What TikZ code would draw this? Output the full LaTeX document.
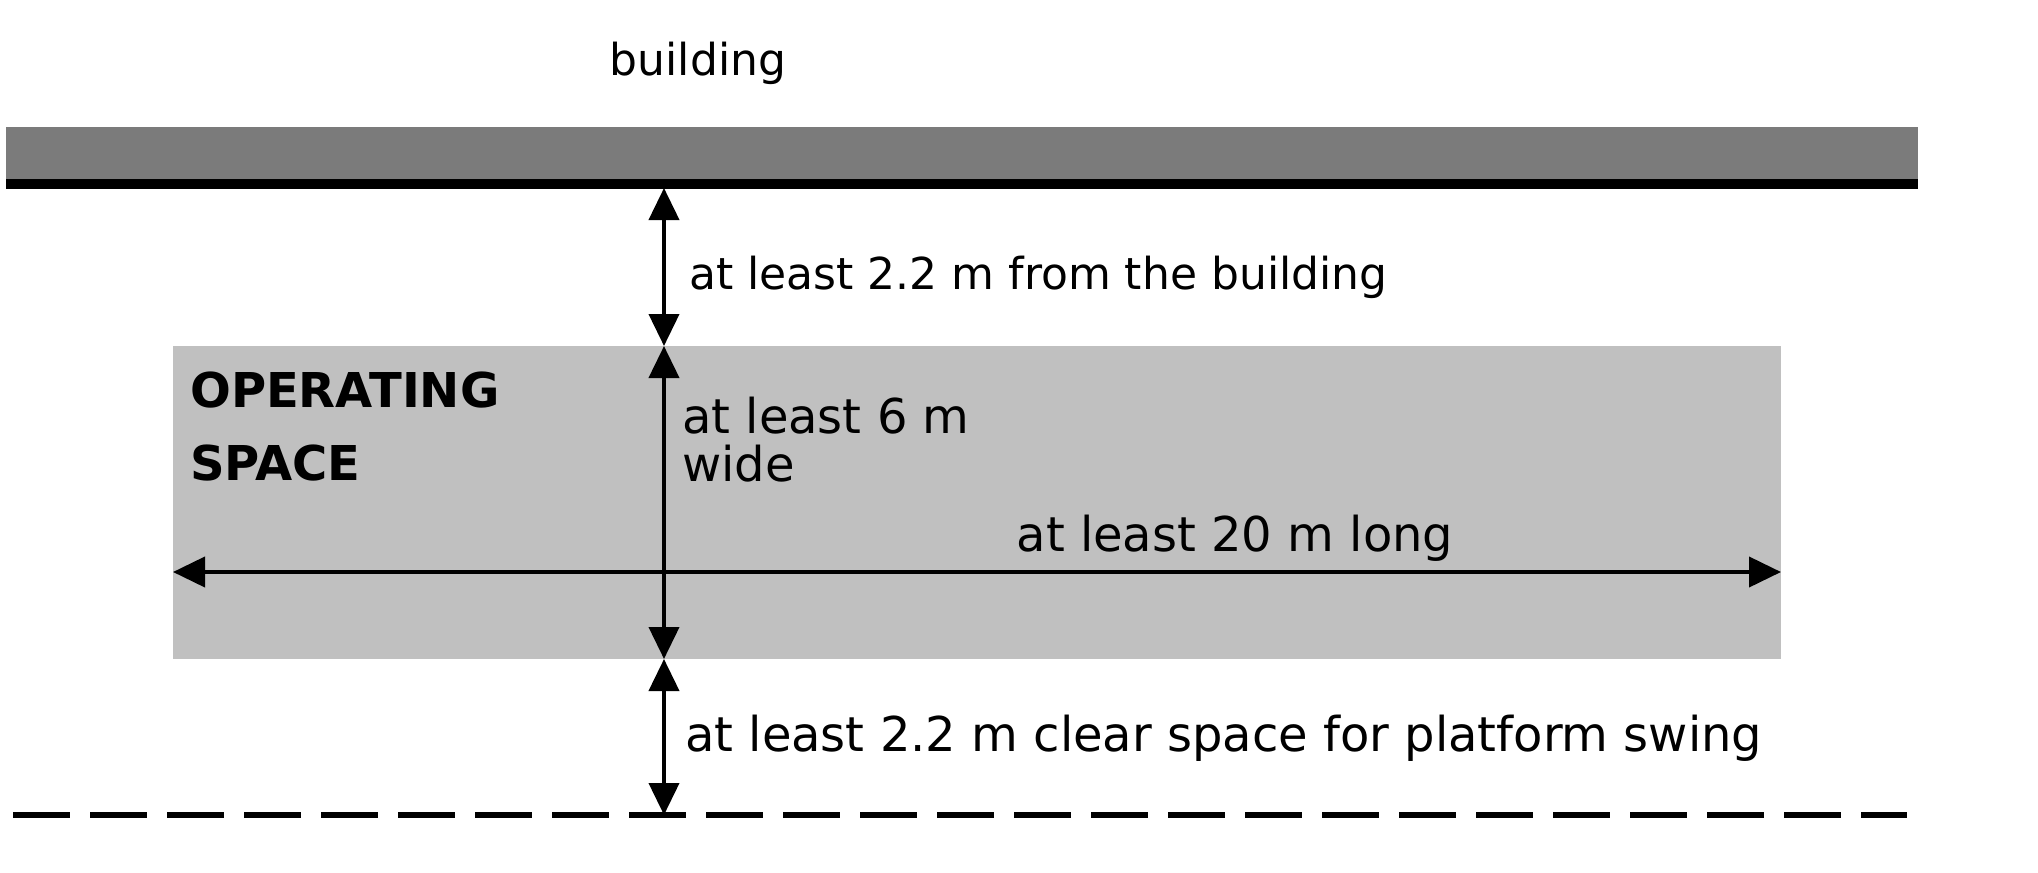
\documentclass[tikz,border=0pt]{standalone}
\usepackage{fontspec}
\setmainfont{DejaVu Sans}
\usetikzlibrary{arrows.meta}
\definecolor{wallgray}{HTML}{7B7B7B}
\definecolor{spacegray}{HTML}{C0C0C0}
\tikzset{
  lbl/.style={inner sep=0pt, anchor=base west, font=\fontsize{44}{48}\selectfont},
  big lbl/.style={lbl, font=\fontsize{48}{52}\selectfont},
  bold lbl/.style={lbl, font=\fontsize{48}{52}\selectfont\bfseries},
  dim/.style={line width=4pt, {Triangle[length=32pt,width=30pt]}-{Triangle[length=32pt,width=30pt]}},
}
\begin{document}
\begin{tikzpicture}[x=1pt,y=-1pt]
\useasboundingbox[fill=white] (0,0) rectangle (2038,873);
% building wall
\fill[wallgray] (6,127) rectangle (1918,180);
\fill[black] (6,179) rectangle (1918,189);
% operating space
\fill[spacegray] (173,346) rectangle (1781,659);
% dashed limit
\draw[line width=6pt, dash pattern=on 57pt off 20pt] (13,815) -- (1907,815);
% coordinates
\coordinate (wall) at (664,188);
\coordinate (optop) at (664,346);
\coordinate (opbot) at (664,659);
\coordinate (limit) at (664,815);
\coordinate (opleft) at (173,572);
\coordinate (opright) at (1781,572);
% dimension arrows
\draw[dim] (wall) -- (optop);
\draw[dim] (optop) -- (opbot);
\draw[dim] (opbot) -- (limit);
\draw[dim] (opleft) -- (opright);
% labels
\node[lbl, anchor=base] (bld) at (698,75) {building};
\node[lbl] (d1) at (689,289) {at least 2.2 m from the building};
\node[bold lbl] (op1) at (190,407) {OPERATING};
\node[bold lbl] (op2) at (190,480) {SPACE};
\node[big lbl] (w1) at (682,433) {at least 6 m};
\node[big lbl] (w2) at (682,481) {wide};
\node[big lbl, anchor=base] (len) at (1235,551) {at least 20 m long};
\node[big lbl] (d2) at (685,751) {at least 2.2 m clear space for platform swing};
\end{tikzpicture}
\end{document}
